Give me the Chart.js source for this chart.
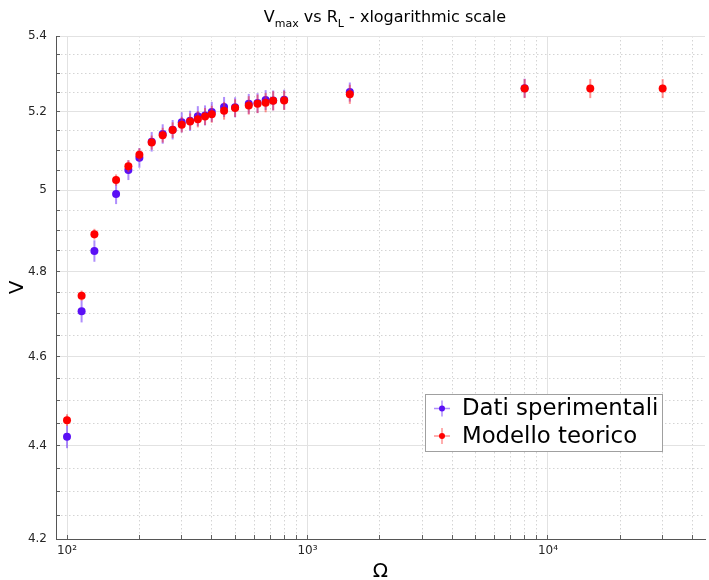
<!DOCTYPE html>
<html>
<head>
<meta charset="utf-8">
<script src="https://cdn.jsdelivr.net/npm/chart.js@4.4.1/dist/chart.umd.min.js"></script>
<style>
  body { margin: 0; background: #fff; }
</style>
</head>
<body>
<canvas id="vmax" width="709" height="580"></canvas>
<script>
// load resistance R_L (ohm)
const resistances = [100, 115, 130, 160, 180, 200, 225, 250, 275, 300, 325, 350, 375,
  400, 450, 500, 570, 620, 670, 720, 800, 1500, 8000, 15000, 30000];

// measured V_max and its uncertainty (first 23 resistances)
const measuredV = [4.420, 4.706, 4.850, 4.990, 5.050, 5.081, 5.122, 5.142, 5.153, 5.172,
  5.176, 5.188, 5.190, 5.199, 5.212, 5.211, 5.220, 5.222, 5.230, 5.229, 5.231, 5.251, 5.261];
const measuredErr = [0.025, 0.026, 0.026, 0.025, 0.025, 0.025, 0.025, 0.025, 0.025, 0.026,
  0.026, 0.026, 0.026, 0.026, 0.026, 0.026, 0.026, 0.026, 0.026, 0.026, 0.026, 0.025, 0.025];

// model prediction and its uncertainty
const modelV = [4.457, 4.743, 4.891, 5.025, 5.060, 5.089, 5.120, 5.139, 5.152, 5.166,
  5.174, 5.180, 5.187, 5.193, 5.202, 5.209, 5.216, 5.220, 5.223, 5.228, 5.229, 5.245,
  5.260, 5.260, 5.260];
const modelErr = [0.013, 0.012, 0.013, 0.014, 0.015, 0.016, 0.018, 0.019, 0.020, 0.020,
  0.021, 0.021, 0.022, 0.022, 0.023, 0.023, 0.024, 0.024, 0.025, 0.025, 0.025, 0.025,
  0.025, 0.025, 0.025];

const xMajorTicks = [100, 1000, 10000];
const xMinorTicks = [200, 300, 400, 500, 600, 700, 800, 900, 2000, 3000, 4000, 5000,
  6000, 7000, 8000, 9000, 20000, 30000, 40000];
const xTickLabels = { 100: "10²", 1000: "10³", 10000: "10⁴" };

const yMajorTicks = [4.2, 4.4, 4.6, 4.8, 5, 5.2, 5.4];
const yMinorTicks = [4.25, 4.3, 4.35, 4.45, 4.5, 4.55, 4.65, 4.7, 4.75, 4.85, 4.9, 4.95,
  5.05, 5.1, 5.15, 5.25, 5.3, 5.35];

const FONT = "'DejaVu Sans', sans-serif";
const BLUE = "#5a0ff5";
const RED = "#ff0000";

const isMajorTick = (ctx, majors) => ctx.tick && majors.includes(ctx.tick.value);

const setTicks = (values) => (scale) => {
  scale.ticks = values.slice().sort((a, b) => a - b).map((v) => ({ value: v }));
};

// vertical error bars, drawn just under each dataset's markers
const errorBars = {
  id: "errorBars",
  beforeDatasetDraw(chart, args) {
    const ds = chart.data.datasets[args.index];
    const meta = chart.getDatasetMeta(args.index);
    const y = chart.scales.y;
    const ctx = chart.ctx;
    ctx.save();
    ctx.strokeStyle = ds.barColor;
    ctx.lineWidth = 2;
    meta.data.forEach((pt, i) => {
      const v = ds.data[i].y;
      const e = ds.errors[i];
      ctx.beginPath();
      ctx.moveTo(pt.x, y.getPixelForValue(v - e));
      ctx.lineTo(pt.x, y.getPixelForValue(v + e));
      ctx.stroke();
    });
    ctx.restore();
  },
};

// title with subscripts
const titleWithSubs = {
  id: "titleWithSubs",
  afterDraw(chart) {
    const ctx = chart.ctx;
    const parts = [
      ["V", 16, 0], ["max", 11, 5], [" vs R", 16, 0], ["L", 11, 5],
      [" - xlogarithmic scale", 16, 0],
    ];
    ctx.save();
    ctx.fillStyle = "#000";
    ctx.textBaseline = "alphabetic";
    let total = 0;
    parts.forEach(([t, s]) => {
      ctx.font = `${s}px ${FONT}`;
      total += ctx.measureText(t).width;
    });
    let x = 385 - total / 2;
    parts.forEach(([t, s, dy]) => {
      ctx.font = `${s}px ${FONT}`;
      ctx.fillText(t, x, 22 + dy);
      x += ctx.measureText(t).width;
    });
    ctx.restore();
  },
};

// boxed legend inside the plot
const boxLegend = {
  id: "boxLegend",
  afterDraw(chart) {
    const ctx = chart.ctx;
    const left = 425, top = 394, w = 237, h = 57;
    ctx.save();
    ctx.fillStyle = "#fff";
    ctx.fillRect(left, top, w, h);
    ctx.strokeStyle = "#a0a0a0";
    ctx.lineWidth = 1;
    ctx.strokeRect(left + 0.5, top + 0.5, w, h);
    chart.data.datasets.forEach((ds, i) => {
      const cy = top + 14.5 + i * 27.5;
      const cx = 442;
      ctx.strokeStyle = ds.barColor;
      ctx.lineWidth = 1.5;
      ctx.beginPath();
      ctx.moveTo(cx - 8, cy);
      ctx.lineTo(cx + 8, cy);
      ctx.moveTo(cx, cy - 8);
      ctx.lineTo(cx, cy + 8);
      ctx.stroke();
      ctx.fillStyle = ds.pointBackgroundColor;
      ctx.beginPath();
      ctx.arc(cx, cy, 3, 0, Math.PI * 2);
      ctx.fill();
      ctx.fillStyle = "#000";
      ctx.font = `22.8px ${FONT}`;
      ctx.textBaseline = "middle";
      ctx.fillText(ds.label, 462, cy + 1);
    });
    ctx.restore();
  },
};

const measuredPoints = measuredV.map((v, i) => ({ x: resistances[i], y: v }));
const modelPoints = modelV.map((v, i) => ({ x: resistances[i], y: v }));

new Chart(document.getElementById("vmax").getContext("2d"), {
  type: "scatter",
  data: {
    datasets: [
      {
        label: "Dati sperimentali",
        data: measuredPoints,
        errors: measuredErr,
        order: 2,
        barColor: "rgba(110, 50, 250, 0.55)",
        pointBackgroundColor: BLUE,
        pointBorderWidth: 0,
        pointRadius: 4,
      },
      {
        label: "Modello teorico",
        data: modelPoints,
        errors: modelErr,
        order: 1,
        barColor: "rgba(255, 40, 40, 0.5)",
        pointBackgroundColor: RED,
        pointBorderWidth: 0,
        pointRadius: 4,
      },
    ],
  },
  options: {
    responsive: false,
    animation: false,
    layout: { padding: { top: 36, right: 0, left: 0, bottom: 0 } },
    plugins: { legend: { display: false }, title: { display: false }, tooltip: { enabled: false } },
    scales: {
      x: {
        type: "logarithmic",
        min: 90,
        max: 45000,
        afterBuildTicks: setTicks([...xMajorTicks, ...xMinorTicks]),
        afterFit: (s) => { s.height = 41; },
        ticks: {
          autoSkip: false,
          maxRotation: 0,
          padding: 9,
          color: "#262626",
          font: { family: FONT, size: 12 },
          callback: (v) => xTickLabels[v] || "",
        },
        grid: {
          color: (ctx) => (isMajorTick(ctx, xMajorTicks) ? "#e2e2e2" : "#d4d4d4"),
          tickLength: -4,
          tickColor: "#606060",
        },
        border: {
          color: "#555",
          dash: (ctx) => (ctx.tick && !xMajorTicks.includes(ctx.tick.value) ? [1.5, 2.5] : []),
        },
        title: {
          display: true,
          text: "Ω",
          color: "#000",
          font: { family: FONT, size: 20 },
          padding: { top: 0, bottom: -4 },
        },
      },
      y: {
        type: "logarithmic",
        min: 4.2,
        max: 5.4,
        afterBuildTicks: setTicks([...yMajorTicks, ...yMinorTicks]),
        afterFit: (s) => { s.width = 56; },
        ticks: {
          autoSkip: false,
          padding: 13,
          color: "#262626",
          font: { family: FONT, size: 12 },
          callback: (v) => (yMajorTicks.includes(v) ? String(v) : ""),
        },
        grid: {
          color: (ctx) => (isMajorTick(ctx, yMajorTicks) ? "#e2e2e2" : "#d4d4d4"),
          tickLength: -4,
          tickColor: "#606060",
        },
        border: {
          color: "#555",
          dash: (ctx) => (ctx.tick && !yMajorTicks.includes(ctx.tick.value) ? [1.5, 2.5] : []),
        },
        title: {
          display: true,
          text: "V",
          color: "#000",
          font: { family: FONT, size: 20 },
          padding: { top: 6, bottom: 0 },
        },
      },
    },
  },
  plugins: [errorBars, titleWithSubs, boxLegend],
});
</script>
</body>
</html>
